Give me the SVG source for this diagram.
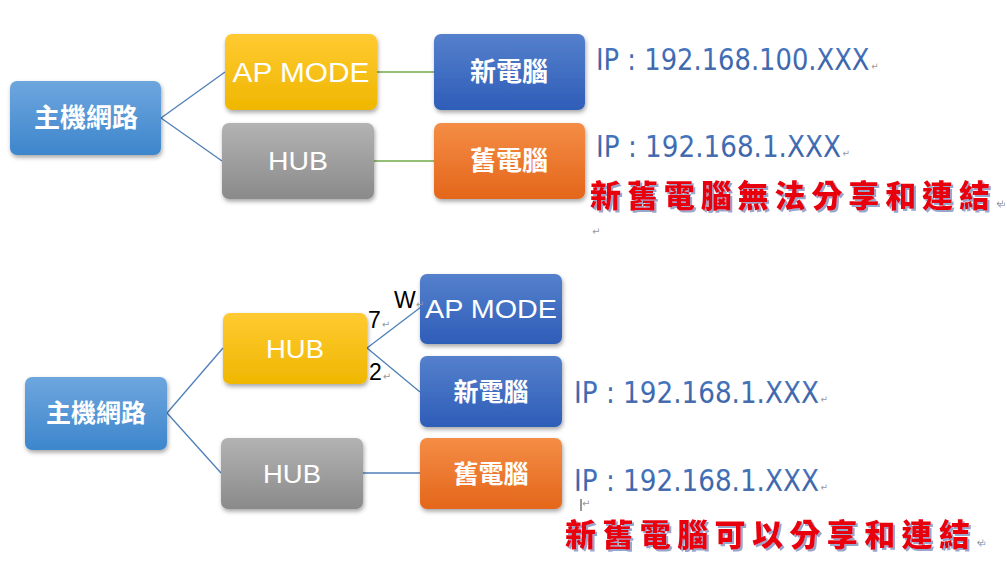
<svg xmlns="http://www.w3.org/2000/svg" width="1007" height="561" viewBox="0 0 1007 561">
<defs>
<linearGradient id="gBlueL" x1="0" y1="0" x2="0" y2="1"><stop offset="0" stop-color="#6ea6de"/><stop offset="1" stop-color="#3d86cc"/></linearGradient>
<linearGradient id="gYel" x1="0" y1="0" x2="0" y2="1"><stop offset="0" stop-color="#ffca32"/><stop offset="1" stop-color="#efb700"/></linearGradient>
<linearGradient id="gGray" x1="0" y1="0" x2="0" y2="1"><stop offset="0" stop-color="#b3b3b3"/><stop offset="1" stop-color="#8a8a8a"/></linearGradient>
<linearGradient id="gBlueD" x1="0" y1="0" x2="0" y2="1"><stop offset="0" stop-color="#5580cc"/><stop offset="1" stop-color="#2e5db8"/></linearGradient>
<linearGradient id="gOr" x1="0" y1="0" x2="0" y2="1"><stop offset="0" stop-color="#f48d45"/><stop offset="1" stop-color="#e4661b"/></linearGradient>
<linearGradient id="gIP" x1="0" y1="0" x2="0" y2="1"><stop offset="0" stop-color="#4a7ac4"/><stop offset="0.7" stop-color="#3a62a8"/><stop offset="1" stop-color="#7f9dd0"/></linearGradient>
<filter id="sh" x="-10%" y="-10%" width="125%" height="135%"><feDropShadow dx="1" dy="2.5" stdDeviation="2" flood-color="#000" flood-opacity="0.35"/></filter>
<filter id="tsh" x="-5%" y="-20%" width="110%" height="150%"><feDropShadow dx="2" dy="2" stdDeviation="0.6" flood-color="#8a9cc8" flood-opacity="0.9"/></filter>
</defs>
<style>
.box{filter:url(#sh);}
.lbl{font-family:"Liberation Sans","DejaVu Sans",sans-serif;fill:#fff;text-anchor:middle;}
.cjk{font-family:"Noto Sans CJK TC","Noto Sans CJK SC",sans-serif;font-weight:bold;fill:#fff;text-anchor:middle;}
.ip{font-family:"DejaVu Sans","Liberation Sans",sans-serif;fill:url(#gIP);font-size:30px;}
.red{font-family:"Noto Sans CJK TC","Noto Sans CJK SC",sans-serif;font-weight:900;fill:#e8000b;font-size:31px;filter:url(#tsh);}
.ret{font-family:"DejaVu Sans",sans-serif;fill:#999;font-size:10px;font-weight:normal;letter-spacing:0;}
.num{font-family:"Liberation Sans","DejaVu Sans",sans-serif;fill:#000;font-size:23px;}
.cb{stroke:#4f7fb8;stroke-width:1.3;fill:none;}
.cg{stroke:#72a84a;stroke-width:1.3;fill:none;}
</style>

<g id="connectors">
<line class="cb" x1="161" y1="118" x2="225" y2="72"/>
<line class="cb" x1="161" y1="118" x2="222" y2="161"/>
<line class="cg" x1="377" y1="72" x2="434" y2="72"/>
<line class="cg" x1="374" y1="161" x2="434" y2="161"/>
<line class="cb" x1="167" y1="413" x2="223" y2="348"/>
<line class="cb" x1="167" y1="413" x2="221" y2="473"/>
<line class="cb" x1="367" y1="348" x2="421" y2="307"/>
<line class="cb" x1="367" y1="348" x2="420" y2="392"/>
<line class="cb" x1="363" y1="473" x2="420" y2="473"/>
</g>

<g id="top-host"><rect class="box" x="10" y="81" width="151" height="74" rx="7" fill="url(#gBlueL)"/><text class="cjk" x="86" y="127" font-size="26">主機網路</text></g>
<g id="top-ap"><rect class="box" x="225" y="34" width="152" height="76" rx="7" fill="url(#gYel)"/><text class="lbl" x="301" y="82" font-size="27" textLength="137" lengthAdjust="spacingAndGlyphs">AP  MODE</text></g>
<g id="top-hub"><rect class="box" x="222" y="123" width="152" height="76" rx="7" fill="url(#gGray)"/><text class="lbl" x="298" y="170" font-size="26" textLength="60" lengthAdjust="spacingAndGlyphs">HUB</text></g>
<g id="top-new"><rect class="box" x="434" y="34" width="151" height="76" rx="7" fill="url(#gBlueD)"/><text class="cjk" x="509" y="81" font-size="26">新電腦</text></g>
<g id="top-old"><rect class="box" x="434" y="123" width="151" height="76" rx="7" fill="url(#gOr)"/><text class="cjk" x="509" y="170" font-size="26">舊電腦</text></g>

<g id="top-text">
<text class="ip" transform="translate(596 70) scale(0.86 1)">IP : 192.168.100.XXX<tspan class="ret" dx="2">↵</tspan></text>
<text class="ip" transform="translate(596 157) scale(0.875 1)">IP : 192.168.1.XXX<tspan class="ret" dx="2">↵</tspan></text>
<text class="red" x="590" y="207" letter-spacing="5.9">新舊電腦無法分享和連結<tspan class="ret">↵</tspan></text>
<text class="ret" x="592" y="235">↵</text>
</g>

<g id="bot-host"><rect class="box" x="25" y="377" width="142" height="73" rx="7" fill="url(#gBlueL)"/><text class="cjk" x="96" y="422" font-size="25">主機網路</text></g>
<g id="bot-hub1"><rect class="box" x="223" y="313" width="144" height="71" rx="7" fill="url(#gYel)"/><text class="lbl" x="295" y="358" font-size="25" textLength="58" lengthAdjust="spacingAndGlyphs">HUB</text></g>
<g id="bot-hub2"><rect class="box" x="221" y="438" width="142" height="71" rx="7" fill="url(#gGray)"/><text class="lbl" x="292" y="483" font-size="25" textLength="58" lengthAdjust="spacingAndGlyphs">HUB</text></g>
<g id="bot-ap"><rect class="box" x="420" y="274" width="142" height="70" rx="7" fill="url(#gBlueD)"/><text class="lbl" x="491" y="318" font-size="26" textLength="132" lengthAdjust="spacingAndGlyphs">AP  MODE</text></g>
<g id="bot-new"><rect class="box" x="420" y="356" width="142" height="71" rx="7" fill="url(#gBlueD)"/><text class="cjk" x="491" y="401" font-size="25">新電腦</text></g>
<g id="bot-old"><rect class="box" x="420" y="438" width="142" height="71" rx="7" fill="url(#gOr)"/><text class="cjk" x="491" y="483" font-size="25">舊電腦</text></g>

<g id="bot-text">
<text class="num" x="368" y="328">7<tspan class="ret" dx="1">↵</tspan></text>
<text class="num" x="394" y="308">W<tspan class="ret" dx="0">↵</tspan></text>
<text class="num" x="369" y="380">2<tspan class="ret" dx="1">↵</tspan></text>
<text class="ip" transform="translate(574 403) scale(0.875 1)">IP : 192.168.1.XXX<tspan class="ret" dx="2">↵</tspan></text>
<text class="ip" transform="translate(574 491) scale(0.875 1)">IP : 192.168.1.XXX<tspan class="ret" dx="2">↵</tspan></text>
<line x1="581" y1="499" x2="581" y2="511" stroke="#333" stroke-width="1"/>
<text class="ret" x="582" y="506.5" font-size="6">↵</text>
<text class="red" x="565" y="546" letter-spacing="6.4">新舊電腦可以分享和連結<tspan class="ret">↵</tspan></text>
</g>
</svg>
